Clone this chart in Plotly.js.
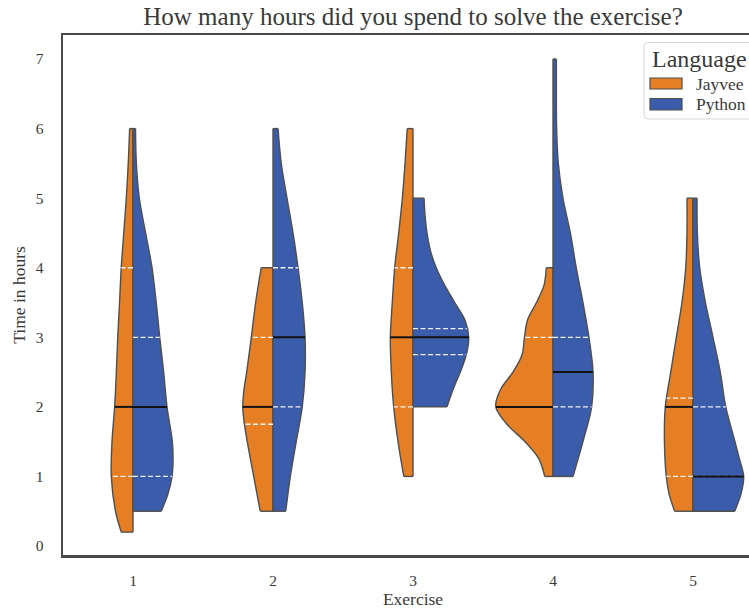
<!DOCTYPE html>
<html>
<head>
<meta charset="utf-8">
<script src="https://cdn.plot.ly/plotly-3.0.1.min.js"></script>
<style>html,body{margin:0;padding:0;overflow:hidden;background:#fff}</style>
</head>
<body>
<div id="chart" style="width:780px;height:610px"></div>
<script>
// ---------------- data ----------------
const exercises = [1, 2, 3, 4, 5];
const languages = ["Jayvee", "Python"];

// violin outline: hours levels and half-widths (in category units) per exercise
const jayveeLevels = [
  [0.2, 0.5, 1, 1.5, 2, 2.5, 3, 3.5, 4, 4.5, 5, 5.5, 6],
  [0.5, 1, 1.5, 1.75, 2, 2.25, 2.5, 3, 3.5, 4],
  [1, 1.5, 2, 2.5, 3, 3.5, 4, 4.5, 5, 5.5, 6],
  [1, 1.25, 1.5, 1.75, 2, 2.25, 2.5, 2.75, 3, 3.25, 3.5, 3.75, 4],
  [0.5, 0.75, 1, 1.5, 2, 2.5, 3, 3.5, 4, 4.5, 5]
];
const jayveeWidths = [
  [0.084, 0.125, 0.155, 0.150, 0.131, 0.119, 0.109, 0.096, 0.084, 0.066, 0.048, 0.034, 0.024],
  [0.091, 0.138, 0.184, 0.204, 0.216, 0.207, 0.188, 0.155, 0.124, 0.084],
  [0.066, 0.107, 0.138, 0.155, 0.162, 0.148, 0.131, 0.102, 0.076, 0.057, 0.041],
  [0.059, 0.100, 0.200, 0.329, 0.409, 0.375, 0.286, 0.221, 0.204, 0.182, 0.118, 0.064, 0.048],
  [0.131, 0.171, 0.191, 0.204, 0.198, 0.159, 0.119, 0.079, 0.052, 0.043, 0.043]
];
const pythonLevels = [
  [0.5, 0.75, 1, 1.25, 1.5, 2, 2.5, 3, 3.5, 4, 4.5, 5, 5.5, 6],
  [0.5, 1, 1.5, 2, 2.5, 3, 3.5, 4, 4.5, 5, 5.5, 6],
  [2, 2.25, 2.5, 2.75, 3, 3.25, 3.5, 3.75, 4, 4.25, 4.5, 4.75, 5],
  [1, 1.5, 2, 2.5, 3, 3.5, 4, 4.5, 5, 5.5, 6, 6.5, 7],
  [0.5, 0.75, 1, 1.25, 1.5, 2, 2.5, 3, 3.5, 4, 4.5, 5]
];
const pythonWidths = [
  [0.202, 0.250, 0.279, 0.286, 0.281, 0.243, 0.219, 0.191, 0.166, 0.136, 0.090, 0.045, 0.024, 0.018],
  [0.091, 0.124, 0.166, 0.209, 0.229, 0.229, 0.209, 0.179, 0.143, 0.100, 0.059, 0.036],
  [0.243, 0.286, 0.338, 0.381, 0.398, 0.371, 0.298, 0.226, 0.166, 0.124, 0.100, 0.086, 0.079],
  [0.143, 0.214, 0.276, 0.286, 0.257, 0.214, 0.166, 0.124, 0.071, 0.038, 0.026, 0.024, 0.024],
  [0.298, 0.343, 0.362, 0.332, 0.300, 0.234, 0.195, 0.143, 0.089, 0.048, 0.031, 0.029]
];

// quartiles (hours)
const jayveeQ1 = [1, 1.75, 2, 2, 1];
const jayveeMedian = [2, 2, 3, 2, 2];
const jayveeQ3 = [4, 3, 4, 3, 2.125];
const pythonQ1 = [1, 2, 2.75, 2, 1];
const pythonMedian = [2, 3, 3, 2.5, 1];
const pythonQ3 = [3, 4, 3.125, 3, 2];

const yTicks = [0, 1, 2, 3, 4, 5, 6, 7];

// ---------------- styling ----------------
const COLORS = { Jayvee: "#e67f23", Python: "#3a5caa" };
const EDGE = "#4f4f4f";
const FONT = "Liberation Serif, Times New Roman, serif";
const TXT = "#3a3a3a";

function widthAt(levels, widths, v) {
  if (v <= levels[0]) return widths[0];
  for (let i = 1; i < levels.length; i++) {
    if (v <= levels[i]) {
      const t = (v - levels[i - 1]) / (levels[i] - levels[i - 1]);
      return widths[i - 1] + t * (widths[i] - widths[i - 1]);
    }
  }
  return widths[widths.length - 1];
}

const traces = [];
function addHalf(c, levels, widths, sign, lang) {
  const n = levels.length - 1;
  traces.push({
    type: "scatter", x: levels.map(() => c), y: levels, mode: "lines",
    line: { color: EDGE, width: 1.4 }, hoverinfo: "skip", showlegend: false
  });
  traces.push({
    type: "scatter", name: lang, x: levels.map((v, i) => c + sign * widths[i]), y: levels,
    mode: "lines", line: { color: EDGE, width: 1.4, shape: "spline", smoothing: 0.9 },
    fill: "tonextx", fillcolor: COLORS[lang], showlegend: false
  });
  traces.push({
    type: "scatter", x: [c, c + sign * widths[0], null, c, c + sign * widths[n]],
    y: [levels[0], levels[0], null, levels[n], levels[n]], mode: "lines",
    line: { color: EDGE, width: 1.4 }, hoverinfo: "skip", showlegend: false
  });
}

const qx = [], qy = [], mx = [], my = [];
exercises.forEach((ex, k) => {
  addHalf(ex, jayveeLevels[k], jayveeWidths[k], -1, "Jayvee");
  addHalf(ex, pythonLevels[k], pythonWidths[k], 1, "Python");
  [jayveeQ1[k], jayveeQ3[k]].forEach(q => {
    qx.push(ex, ex - widthAt(jayveeLevels[k], jayveeWidths[k], q), null); qy.push(q, q, null);
  });
  [pythonQ1[k], pythonQ3[k]].forEach(q => {
    qx.push(ex, ex + widthAt(pythonLevels[k], pythonWidths[k], q), null); qy.push(q, q, null);
  });
  const jm = jayveeMedian[k], pm = pythonMedian[k];
  mx.push(ex - widthAt(jayveeLevels[k], jayveeWidths[k], jm), ex, null); my.push(jm, jm, null);
  mx.push(ex, ex + widthAt(pythonLevels[k], pythonWidths[k], pm), null); my.push(pm, pm, null);
});
traces.push({
  type: "scatter", x: qx, y: qy, mode: "lines", name: "quartiles",
  line: { color: "rgba(255,255,255,0.92)", width: 1.3, dash: "5px,2.5px" }, showlegend: false
});
traces.push({
  type: "scatter", x: mx, y: my, mode: "lines", name: "median",
  line: { color: "#111111", width: 2 }, showlegend: false
});

// ---------------- legend (drawn in paper space) ----------------
const PL = 63, PT = 35, PW = 700, PH = 520;
const xp = X => (X - PL) / PW;
const yp = Y => (PT + PH - Y) / PH;
const shapes = [];
const annotations = [];
(function legend() {
  const x0 = 644, x1 = 800, y0 = 42.5, y1 = 119, r = 4;
  const path = `M ${xp(x0 + r)} ${yp(y0)} L ${xp(x1)} ${yp(y0)} L ${xp(x1)} ${yp(y1)} L ${xp(x0 + r)} ${yp(y1)} ` +
    `Q ${xp(x0)} ${yp(y1)} ${xp(x0)} ${yp(y1 - r)} L ${xp(x0)} ${yp(y0 + r)} Q ${xp(x0)} ${yp(y0)} ${xp(x0 + r)} ${yp(y0)} Z`;
  shapes.push({ type: "path", xref: "paper", yref: "paper", path,
    line: { color: "#d6d6d6", width: 1 }, fillcolor: "rgba(255,255,255,0.85)", layer: "above" });
  annotations.push({ xref: "paper", yref: "paper", x: xp(650), y: yp(59), xanchor: "left", yanchor: "middle",
    text: "Language", showarrow: false, font: { family: FONT, size: 24, color: TXT } });
  const rows = [{ lang: "Jayvee", top: 78, bottom: 89 }, { lang: "Python", top: 98.5, bottom: 110 }];
  rows.forEach(rw => {
    shapes.push({ type: "rect", xref: "paper", yref: "paper", x0: xp(650), x1: xp(682), y0: yp(rw.bottom), y1: yp(rw.top),
      fillcolor: COLORS[rw.lang], line: { color: EDGE, width: 1.2 }, layer: "above" });
    annotations.push({ xref: "paper", yref: "paper", x: xp(694), y: yp((rw.top + rw.bottom) / 2), xanchor: "left", yanchor: "middle",
      text: rw.lang, showarrow: false, font: { family: FONT, size: 17.5, color: TXT } });
  });
})();

const layout = {
  width: 780, height: 610,
  margin: { l: PL, r: 780 - PL - PW, t: PT, b: 610 - PT - PH },
  paper_bgcolor: "#ffffff", plot_bgcolor: "#ffffff",
  showlegend: false,
  font: { family: FONT, color: TXT },
  title: { text: "How many hours did you spend to solve the exercise?", x: 0.5, xref: "paper", xanchor: "center",
    y: 1 - 16 / 610, yref: "container", yanchor: "middle", font: { family: FONT, size: 25, color: TXT } },
  xaxis: {
    range: [0.5, 5.5], tickvals: exercises, ticktext: exercises.map(String),
    showgrid: false, zeroline: false, showline: true, mirror: true, linecolor: "#4a4a4a", linewidth: 2.5,
    ticks: "outside", ticklen: 10, tickcolor: "rgba(0,0,0,0)",
    tickfont: { family: FONT, size: 15.5, color: TXT },
    title: { text: "Exercise", font: { family: FONT, size: 17.5, color: TXT }, standoff: 4 }
  },
  yaxis: {
    range: [-0.129, 7.345], tickvals: yTicks, ticktext: yTicks.map(String),
    showgrid: false, zeroline: false, showline: true, mirror: true, linecolor: "#4a4a4a", linewidth: 2.5,
    ticks: "outside", ticklen: 14, tickcolor: "rgba(0,0,0,0)",
    tickfont: { family: FONT, size: 15.5, color: TXT },
    title: { text: "Time in hours", font: { family: FONT, size: 17.5, color: TXT }, standoff: 6 }
  },
  shapes, annotations
};

Plotly.newPlot("chart", traces, layout, { displayModeBar: false, staticPlot: true });
</script>
</body>
</html>
